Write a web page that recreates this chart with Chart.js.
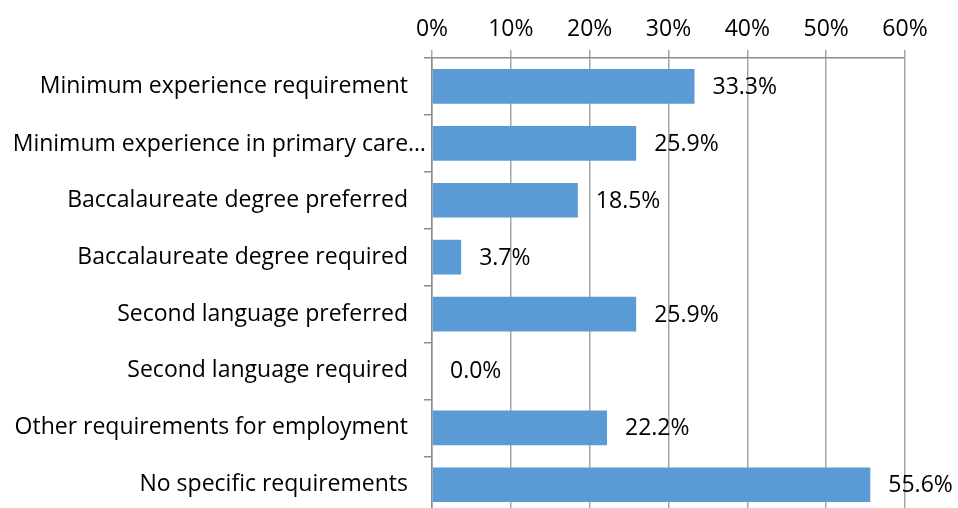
<!DOCTYPE html>
<html>
<head>
<meta charset="utf-8">
<script src="https://cdn.jsdelivr.net/npm/chart.js@4.4.0/dist/chart.umd.min.js"></script>
<style>
  html, body { margin: 0; padding: 0; background: #fff; overflow: hidden; }
</style>
</head>
<body>
<canvas id="chart" width="958" height="543"></canvas>
<script>
const categories = [
  "Minimum experience requirement",
  "Minimum experience in primary care\u2026",
  "Baccalaureate degree preferred",
  "Baccalaureate degree required",
  "Second language preferred",
  "Second language required",
  "Other requirements for employment",
  "No specific requirements"
];
const percentValues = [33.3, 25.9, 18.5, 3.7, 25.9, 0.0, 22.2, 55.6];
const xTickMax = 60;
const xTickStep = 10;

const FONT = "'Open Sans', Lato, sans-serif";
const FONT_SIZE = 23;
const OVERHANG = 1; // truncated label that sticks out past the others, like Excel

// data labels drawn right of each bar end, plus the overhanging category label
const barLabels = {
  id: "barLabels",
  afterDatasetsDraw(chart) {
    const { ctx } = chart;
    const meta = chart.getDatasetMeta(0);
    ctx.save();
    ctx.font = FONT_SIZE + "px " + FONT;
    ctx.fillStyle = "#000";
    ctx.textAlign = "left";
    ctx.textBaseline = "middle";
    meta.data.forEach((bar, i) => {
      ctx.fillText(percentValues[i].toFixed(1) + "%", bar.x + 18, bar.y + 1);
    });
    const yScale = chart.scales.y;
    ctx.textAlign = "right";
    ctx.fillText(categories[OVERHANG], 426, yScale.getPixelForValue(OVERHANG) + 1);
    ctx.restore();
  }
};

new Chart(document.getElementById("chart"), {
  type: "bar",
  data: {
    labels: categories,
    datasets: [{
      data: percentValues,
      backgroundColor: "#5B9BD5",
      borderWidth: 0,
      categoryPercentage: 1,
      barPercentage: 0.61
    }]
  },
  plugins: [barLabels],
  options: {
    indexAxis: "y",
    responsive: false,
    animation: false,
    layout: { padding: { left: 0, right: 53, top: 0, bottom: 8 } },
    plugins: { legend: { display: false }, tooltip: { enabled: false } },
    scales: {
      x: {
        position: "top",
        min: 0,
        max: xTickMax,
        afterFit(scale) { scale.height = 58; },
        ticks: {
          stepSize: xTickStep,
          padding: 7,
          color: "#000",
          font: { family: FONT, size: FONT_SIZE },
          callback: (v) => v + "%"
        },
        grid: { color: "#A6A6A6", lineWidth: 1.5, tickLength: 8 },
        border: { color: "#8C8C8C", width: 1.5 }
      },
      y: {
        afterFit(scale) { scale.width = 432; },
        ticks: {
          padding: 16,
          color: (c) => (c.index === OVERHANG ? "rgba(0,0,0,0)" : "#000"),
          font: { family: FONT, size: FONT_SIZE }
        },
        grid: { drawOnChartArea: false, color: "#8C8C8C", lineWidth: 1.5, tickLength: 8 },
        border: { color: "#8C8C8C", width: 1.5 }
      }
    }
  }
});
</script>
</body>
</html>
